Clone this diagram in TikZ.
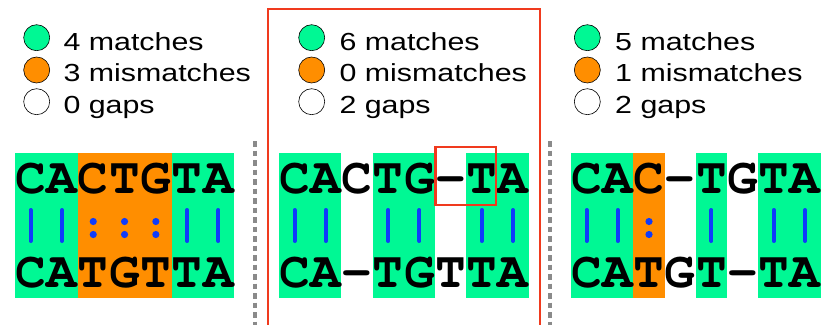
\documentclass[tikz,border=0pt]{standalone}
\usepackage{fontspec}
\setmainfont{Liberation Sans}
\newfontfamily\seqfont{TeX Gyre Cursor}
\definecolor{colg}{RGB}{0,248,148}
\definecolor{colo}{RGB}{255,142,0}
\definecolor{colw}{RGB}{255,255,255}
\definecolor{barblue}{RGB}{15,60,250}
\definecolor{framered}{RGB}{240,58,30}
\definecolor{dashgray}{RGB}{138,138,138}
\tikzset{
  legtext/.style={anchor=base west, inner sep=0, font=\fontsize{24.7}{28}\selectfont},
  legdot/.style={circle, draw=black, line width=0.6pt, minimum size=26pt, inner sep=0},
  letter/.style={anchor=base, inner sep=0, font=\seqfont\bfseries\fontsize{51}{51}\selectfont},
  bar/.style={draw=barblue, line width=4pt, line cap=round},
  coldot/.style={fill=barblue},
  sep/.style={draw=dashgray, line width=3.5pt, dash pattern=on 5.5pt off 4pt},
  redbox/.style={draw=framered, line width=2.5pt},
}
\begin{document}
\begin{tikzpicture}[x=1pt,y=1pt]
\useasboundingbox (0,0) rectangle (837,-324);
\clip (0,0) rectangle (837,-324);
\fill[white] (0,0) rectangle (837,-324);

% legends
\node[legdot, fill=colg] (a1) at (36.7,-37.7) {};
\node[legdot, fill=colo] (a2) at (36.7,-70) {};
\node[legdot, fill=white] (a3) at (36.7,-101.7) {};
\node[legtext] (at1) at (63.3,-50) {\scalebox{1.23}[1]{4 matches}};
\node[legtext] (at2) at (63.3,-81.7) {\scalebox{1.23}[1]{3 mismatches}};
\node[legtext] (at3) at (63.3,-113.3) {\scalebox{1.23}[1]{0 gaps}};

\node[legdot, fill=colg] (b1) at (311.7,-37.7) {};
\node[legdot, fill=colo] (b2) at (311.7,-70) {};
\node[legdot, fill=white] (b3) at (311.7,-101.7) {};
\node[legtext] (bt1) at (339.3,-50) {\scalebox{1.23}[1]{6 matches}};
\node[legtext] (bt2) at (339.3,-81.7) {\scalebox{1.23}[1]{0 mismatches}};
\node[legtext] (bt3) at (339.3,-113.3) {\scalebox{1.23}[1]{2 gaps}};

\node[legdot, fill=colg] (c1) at (587.3,-37.7) {};
\node[legdot, fill=colo] (c2) at (587.3,-70) {};
\node[legdot, fill=white] (c3) at (587.3,-101.7) {};
\node[legtext] (ct1) at (615,-50) {\scalebox{1.23}[1]{5 matches}};
\node[legtext] (ct2) at (615,-81.7) {\scalebox{1.23}[1]{1 mismatches}};
\node[legtext] (ct3) at (615,-113.3) {\scalebox{1.23}[1]{2 gaps}};

% panel 1
\foreach \c [count=\i from 0] in {colg,colg,colo,colo,colo,colg,colg}
  \fill[\c] ({15+\i*31.3},-153) rectangle ({15+(\i+1)*31.3},-297.7);
\foreach \t/\b [count=\i from 0] in {C/C,A/A,C/T,T/G,G/T,T/T,A/A}{
  \node[letter] (pa\i) at ({15+(\i+0.5)*31.3},-193) {\t};
  \node[letter] (qa\i) at ({15+(\i+0.5)*31.3},-287) {\b};
}
\foreach \i in {0,1,5,6}
  \draw[bar] ({15+(\i+0.5)*31.3},-210) -- ({15+(\i+0.5)*31.3},-241);
\foreach \i in {2,3,4}{
  \fill[coldot] ({15+(\i+0.5)*31.3},-221.5) circle (3.6);
  \fill[coldot] ({15+(\i+0.5)*31.3},-234.5) circle (3.6);
}

% panel 2
\foreach \c [count=\i from 0] in {colg,colg,colw,colg,colg,colw,colg,colg}
  \fill[\c] ({279+\i*31.2},-153) rectangle ({279+(\i+1)*31.2},-297.7);
\foreach \t/\b [count=\i from 0] in {C/C,A/A,C/-,T/T,G/G,-/T,T/T,A/A}{
  \node[letter] (pb\i) at ({279+(\i+0.5)*31.2},-193) {\t};
  \node[letter] (qb\i) at ({279+(\i+0.5)*31.2},-287) {\b};
}
\foreach \i in {0,1,3,4,6,7}
  \draw[bar] ({279+(\i+0.5)*31.2},-210) -- ({279+(\i+0.5)*31.2},-241);
\draw[redbox] (435.7,-147) rectangle (496,-205);

% panel 3
\foreach \c [count=\i from 0] in {colg,colg,colo,colw,colg,colw,colg,colg}
  \fill[\c] ({571+\i*31.2},-153) rectangle ({571+(\i+1)*31.2},-297.7);
\foreach \t/\b [count=\i from 0] in {C/C,A/A,C/T,-/G,T/T,G/-,T/T,A/A}{
  \node[letter] (pc\i) at ({571+(\i+0.5)*31.2},-193) {\t};
  \node[letter] (qc\i) at ({571+(\i+0.5)*31.2},-287) {\b};
}
\foreach \i in {0,1,4,6,7}
  \draw[bar] ({571+(\i+0.5)*31.2},-210) -- ({571+(\i+0.5)*31.2},-241);
\fill[coldot] ({571+2.5*31.2},-221.5) circle (3.6);
\fill[coldot] ({571+2.5*31.2},-234.5) circle (3.6);

% separators and frame
\draw[sep] (255,-141) -- (255,-330);
\draw[sep] (550,-141) -- (550,-330);
\draw[draw=framered, line width=2pt] (268.3,-9.3) rectangle (540,-340);
\end{tikzpicture}
\end{document}
